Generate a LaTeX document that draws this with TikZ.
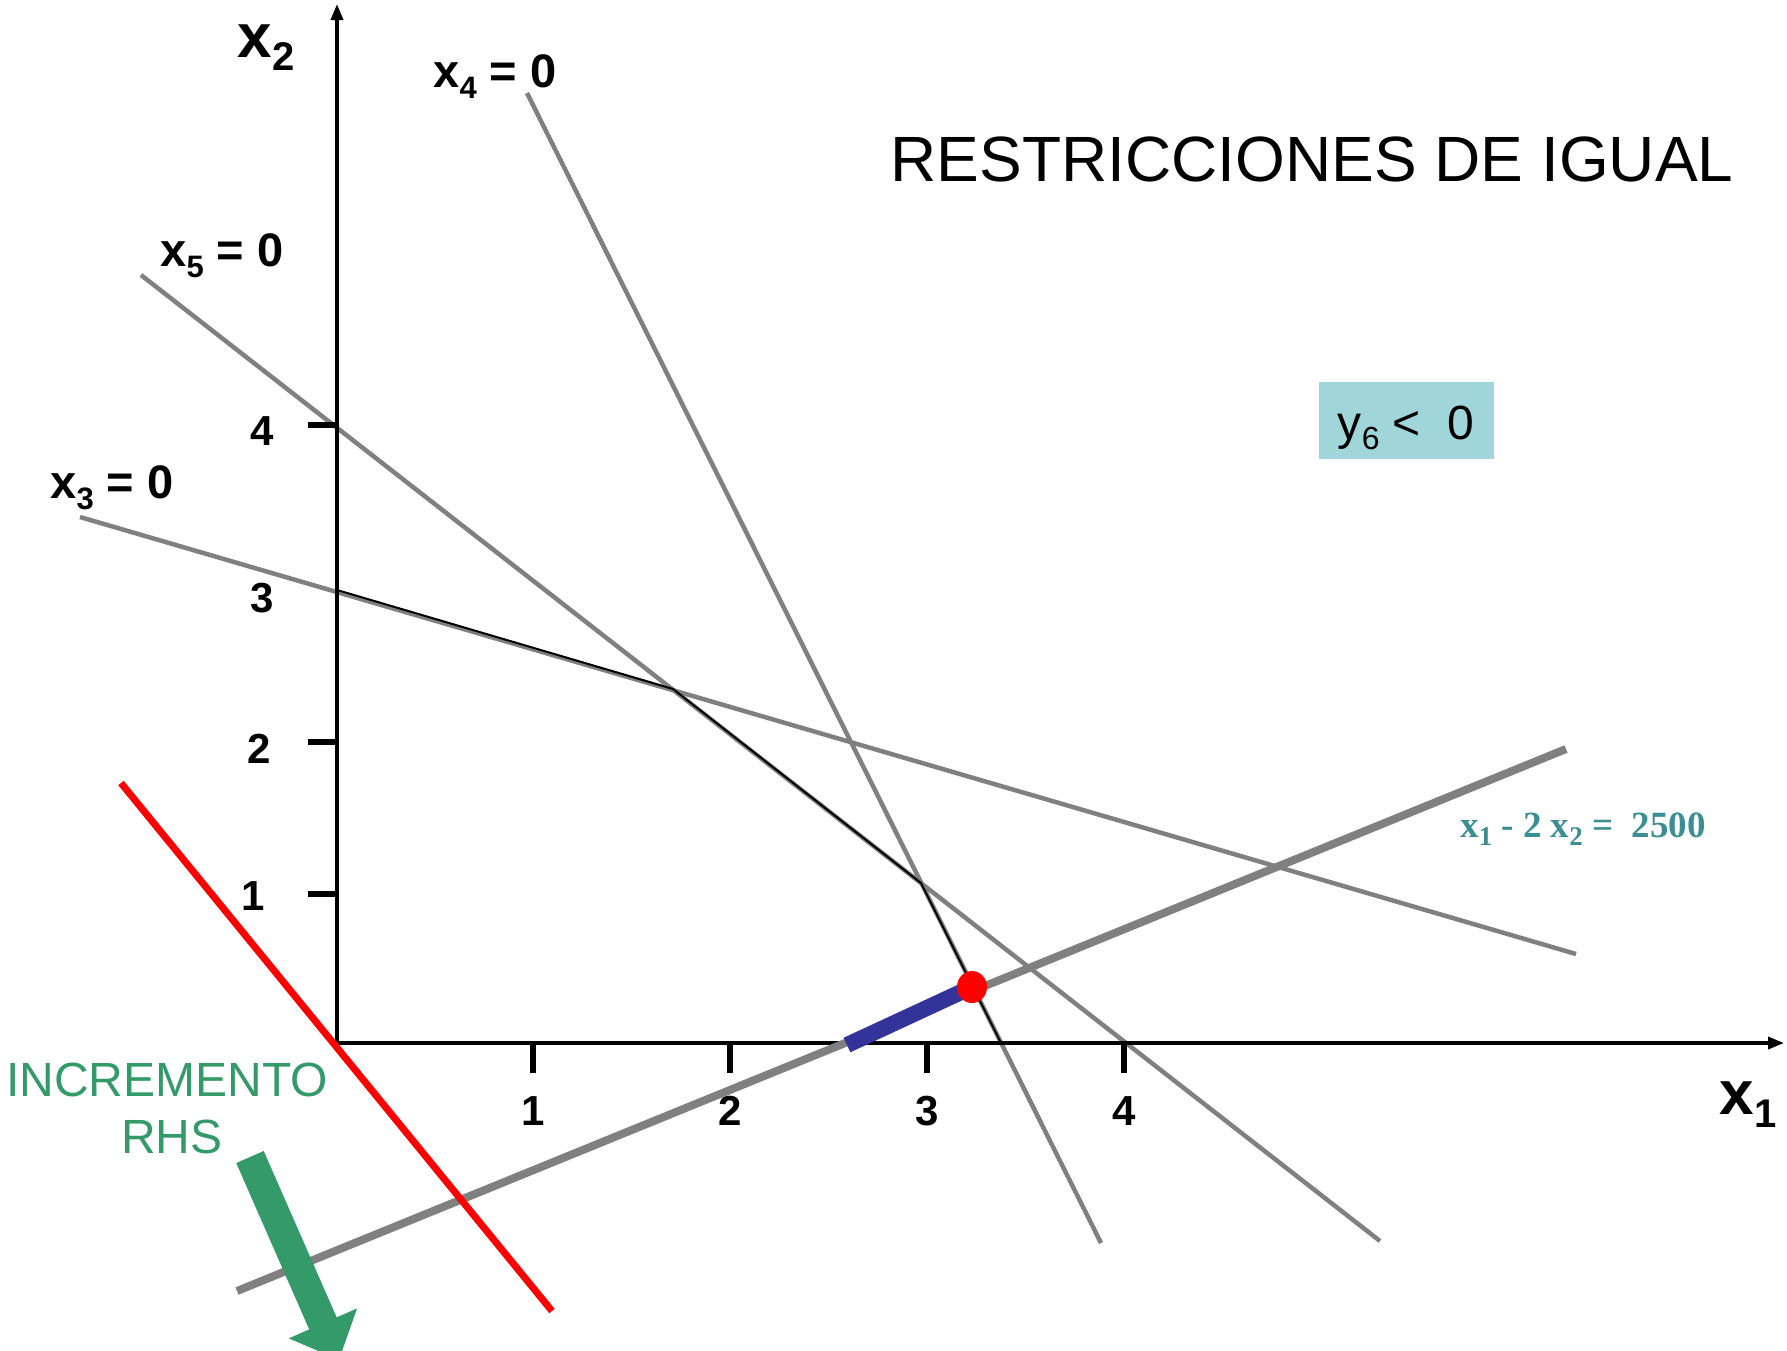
\documentclass[tikz,border=0pt]{standalone}
\usepackage{fontspec}
\setmainfont{Liberation Sans}
\newfontfamily\timesf{Liberation Serif}
\usetikzlibrary{arrows.meta}
\definecolor{lgray}{HTML}{808080}
\definecolor{boxteal}{HTML}{A0D5D9}
\definecolor{eqteal}{HTML}{3B8E92}
\definecolor{incgreen}{HTML}{359A6A}
\definecolor{segblue}{HTML}{333399}
\tikzset{
  conline/.style={draw=lgray, line width=4.5pt},
  axisline/.style={draw=black, line width=3.5pt, -{Triangle[length=16pt,width=12pt]}},
  tickmark/.style={draw=black, line width=6pt},
  ticklbl/.style={font=\fontsize{42}{42}\selectfont\bfseries, inner sep=0pt},
  varlbl/.style={font=\fontsize{47}{47}\selectfont\bfseries, inner sep=0pt},
  axislbl/.style={font=\fontsize{62}{62}\selectfont\bfseries, inner sep=0pt},
}
\begin{document}
\begin{tikzpicture}[x=1pt,y=-1pt]
\useasboundingbox (0,0) rectangle (1787,1350);
% coordinates
\coordinate (O) at (337,1043);
\coordinate (xend) at (1784,1043);
\coordinate (yend) at (337,4);
\coordinate (a4) at (527,93);   \coordinate (b4) at (1101,1243);
\coordinate (a5) at (141,275);  \coordinate (b5) at (1380,1241);
\coordinate (a3) at (80,517);   \coordinate (b3) at (1576,954);
\coordinate (ga) at (237,1291); \coordinate (gb) at (1566,749);
\coordinate (ra) at (121,783);  \coordinate (rb) at (552,1311);
\coordinate (p1) at (337,590);  \coordinate (p2) at (673,689);
\coordinate (p3) at (921,883);  \coordinate (p4) at (1001,1043);
\coordinate (bs) at (847,1045); \coordinate (be) at (972,987);
% constraint lines
\draw[conline] (a4) -- (b4);
\draw[conline] (a5) -- (b5);
\draw[conline] (a3) -- (b3);
% axes
\draw[axisline] (O) -- (xend);
\draw[axisline] (O) -- (yend);
% feasible boundary
\draw[black, line width=2pt] (p1) -- (p2) -- (p3) -- (p4);
% ticks
\foreach \X in {533,730,927,1124} \draw[tickmark] (\X,1043) -- (\X,1073);
\foreach \Y in {425,742,894} \draw[tickmark] (308,\Y) -- (337,\Y);
% tick labels
\node[ticklbl] (t1) at (533,1111) {1};
\node[ticklbl] (t2) at (730,1111) {2};
\node[ticklbl] (t3) at (927,1111) {3};
\node[ticklbl] (t4) at (1124,1111) {4};
\node[ticklbl] (s4) at (262,431) {4};
\node[ticklbl] (s3) at (262,598) {3};
\node[ticklbl] (s2) at (259,749) {2};
\node[ticklbl] (s1) at (253,896) {1};
% equality constraint
\draw[draw=lgray, line width=8pt] (ga) -- (gb);
\draw[draw=segblue, line width=16pt] (bs) -- (be);
\fill[red] (be) ellipse [x radius=15pt, y radius=16pt];
% red line
\draw[red, line width=7pt] (ra) -- (rb);
% green arrow
\begin{scope}
\clip (0,0) rectangle (1787,1350);
\draw[incgreen, line width=30pt, -{Triangle[length=40pt,width=72pt]}] (250,1157) -- (339,1360);
\end{scope}
% labels
\node[axislbl] (lx2) at (266,48) {x\raisebox{-13pt}{\fontsize{40}{40}\selectfont 2}};
\node[axislbl] (lx1) at (1748,1105) {x\raisebox{-13pt}{\fontsize{40}{40}\selectfont 1}};
\node[varlbl] (lx4) at (495,77) {x\raisebox{-11pt}{\fontsize{31}{31}\selectfont 4} = 0};
\node[varlbl] (lx5) at (222,256) {x\raisebox{-11pt}{\fontsize{31}{31}\selectfont 5} = 0};
\node[varlbl] (lx3) at (112,488) {x\raisebox{-11pt}{\fontsize{31}{31}\selectfont 3} = 0};
\node[font=\fontsize{64}{64}\selectfont, inner sep=0pt] (title) at (1312,159) {RESTRICCIONES DE IGUAL};
\node[fill=boxteal, minimum width=175pt, minimum height=77pt, inner sep=0pt] (ybox) at (1406,420) {};
\node[font=\fontsize{48}{48}\selectfont, inner sep=0pt] (ytext) at (1406,428)
      {y\raisebox{-10pt}{\fontsize{32}{32}\selectfont 6} <\ \ 0};
\node[text=eqteal, font=\timesf\fontsize{37}{37}\selectfont\bfseries, inner sep=0pt] (eq) at (1583,829)
      {x\raisebox{-8pt}{\fontsize{27}{27}\selectfont 1} - 2 x\raisebox{-8pt}{\fontsize{27}{27}\selectfont 2} =\ \ 2500};
\node[text=incgreen, font=\fontsize{48}{57}\selectfont, align=center, inner sep=0pt] (inc) at (167,1108)
      {INCREMENTO\\\hspace*{10pt}RHS};
\end{tikzpicture}
\end{document}
